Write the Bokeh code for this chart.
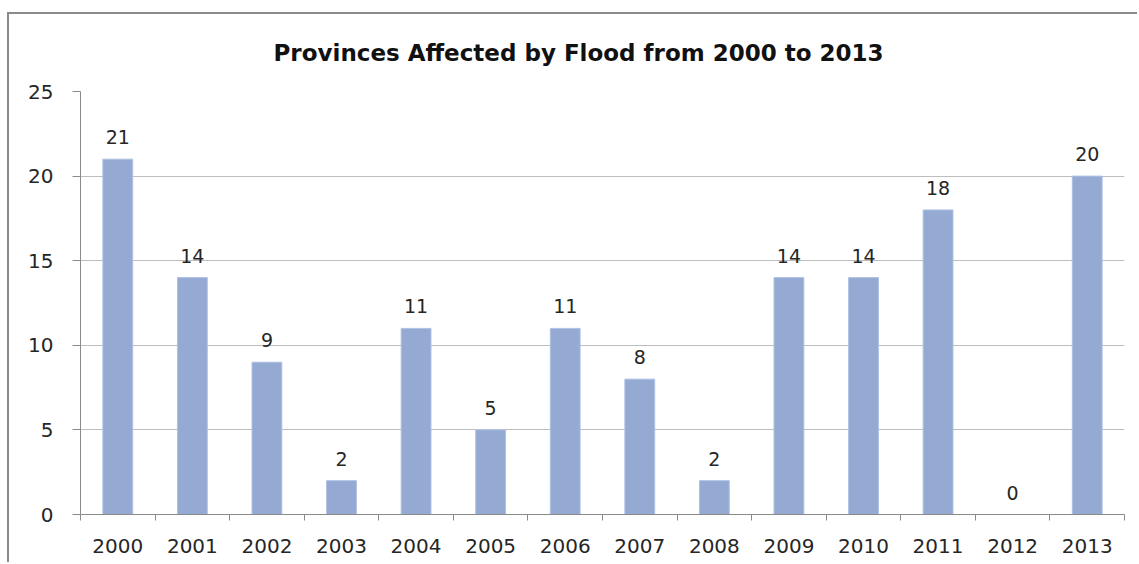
from bokeh.plotting import figure
from bokeh.models import FixedTicker, Range1d, ColumnDataSource
from bokeh.core.properties import value
from bokeh.embed import file_html
from bokeh.resources import INLINE

# ---- data ----
years = ["2000", "2001", "2002", "2003", "2004", "2005", "2006",
         "2007", "2008", "2009", "2010", "2011", "2012", "2013"]
provinces = [21, 14, 9, 2, 11, 5, 11, 8, 2, 14, 14, 18, 0, 20]
y_ticks = [0, 5, 10, 15, 20, 25]
title_text = "Provinces Affected by Flood from 2000 to 2013"

FONT = "DejaVu Sans"

x_pos = [i + 0.5 for i in range(len(years))]
boundaries = list(range(len(years) + 1))
src = ColumnDataSource(dict(x=x_pos, top=provinces,
                            label=[str(v) for v in provinces]))

p = figure(width=1130, height=550,
           x_range=Range1d(0, len(years)), y_range=Range1d(0, max(y_ticks)),
           output_backend="svg", toolbar_location=None,
           min_border_left=71, min_border_right=15,
           min_border_top=77, min_border_bottom=50)
p.margin = (12, 0, 0, 7)
p.styles = {"border-top": "2px solid #8a8a8a", "border-left": "2px solid #8a8a8a"}
p.outline_line_color = None
p.background_fill_color = "white"
p.border_fill_color = "white"

p.vbar(x="x", top="top", width=0.4, source=src,
       fill_color="#94AAD3", line_color="#AEC1E4", line_width=1)
p.text(x="x", y="top", text="label", source=src,
       text_align="center", text_baseline="bottom", y_offset=-15,
       text_font=value(FONT), text_font_size="19px", text_color="#262626")

# title
p.title.text = title_text
p.title.align = "left"
p.title.vertical_align = "top"
p.title.offset = 193
p.title.standoff = 48
p.title.text_font = FONT
p.title.text_font_style = "bold"
p.title.text_font_size = "23px"
p.title.text_color = "#111111"

# x axis
xa = p.xaxis[0]
xa.ticker = FixedTicker(ticks=x_pos, minor_ticks=boundaries)
xa.major_label_overrides = {x: y for x, y in zip(x_pos, years)}
xa.major_tick_out = 0
xa.major_tick_in = 0
xa.minor_tick_out = 6
xa.minor_tick_in = 0
xa.axis_line_color = "#8a8a8a"
xa.minor_tick_line_color = "#8a8a8a"
xa.major_label_standoff = 18
xa.major_label_text_font = FONT
xa.major_label_text_font_size = "20px"
xa.major_label_text_color = "#262626"

# y axis
ya = p.yaxis[0]
ya.ticker = FixedTicker(ticks=y_ticks)
ya.major_tick_out = 8
ya.major_tick_in = 0
ya.minor_tick_line_color = None
ya.axis_line_color = "#8a8a8a"
ya.major_tick_line_color = "#8a8a8a"
ya.major_label_standoff = 19
ya.major_label_text_font = FONT
ya.major_label_text_font_size = "20px"
ya.major_label_text_color = "#262626"

p.xgrid.visible = False
p.ygrid.ticker = FixedTicker(ticks=y_ticks)
p.ygrid.grid_line_color = "#bdbdbd"

open("out.html", "w").write(file_html(p, INLINE))
